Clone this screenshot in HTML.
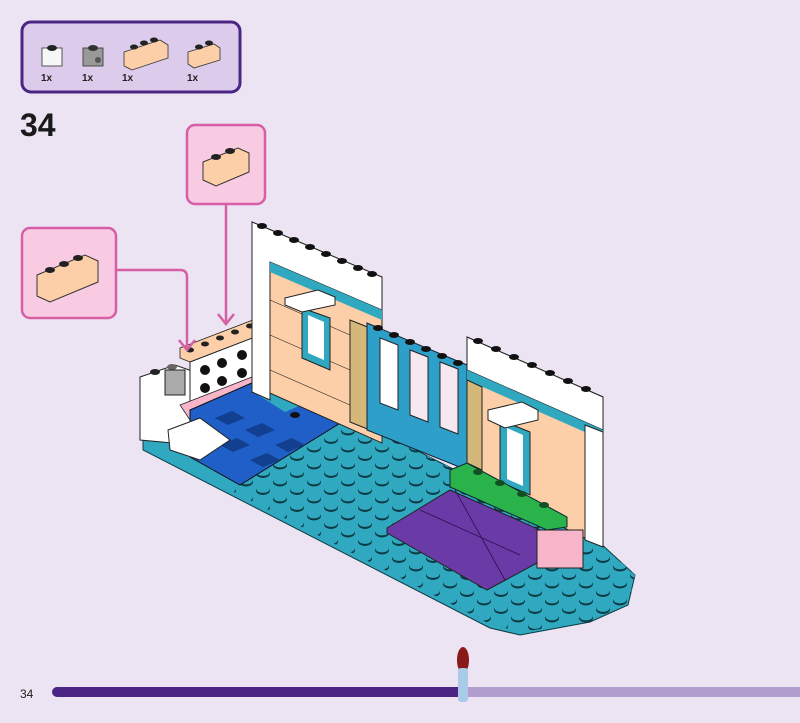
<!DOCTYPE html>
<html><head><meta charset="utf-8"><style>
body{margin:0;background:#ece3f3;width:800px;height:718px;overflow:hidden;font-family:"Liberation Sans",sans-serif}
</style></head><body>
<svg width="800" height="718" viewBox="0 0 800 718" xmlns="http://www.w3.org/2000/svg">
<defs>
<pattern id="st" x="0" y="0" width="34" height="17" patternUnits="userSpaceOnUse">
<ellipse cx="8" cy="6" rx="7" ry="4.5" fill="#0d3b44"/><ellipse cx="8" cy="4.8" rx="6.5" ry="3.6" fill="#2fa8c0"/>
<ellipse cx="25" cy="14.5" rx="7" ry="4.5" fill="#0d3b44"/><ellipse cx="25" cy="13.3" rx="6.5" ry="3.6" fill="#2fa8c0"/>
<ellipse cx="25" cy="-2.5" rx="7" ry="4.5" fill="#0d3b44"/><ellipse cx="25" cy="-3.7" rx="6.5" ry="3.6" fill="#2fa8c0"/>
</pattern>
</defs>
<rect width="800" height="718" fill="#ece3f3"/>
<rect x="22" y="22" width="218" height="70" rx="9" fill="#dccbea" stroke="#4b2584" stroke-width="3"/>
<rect x="42" y="48" width="20" height="18" fill="#f7f7f7" stroke="#333" stroke-width=".8"/><ellipse cx="52" cy="48" rx="5" ry="3" fill="#222"/>
<rect x="83" y="48" width="20" height="18" fill="#999" stroke="#333" stroke-width=".8"/><ellipse cx="93" cy="48" rx="5" ry="3" fill="#333"/><circle cx="98" cy="60" r="3" fill="#555"/>
<polygon points="124,52 160,40 168,45 168,58 132,70 124,66" fill="#fdcfa8" stroke="#333" stroke-width=".8"/>
<ellipse cx="134" cy="47" rx="4" ry="2.5" fill="#222"/><ellipse cx="144" cy="43" rx="4" ry="2.5" fill="#222"/><ellipse cx="154" cy="40" rx="4" ry="2.5" fill="#222"/>
<polygon points="188,52 214,44 220,48 220,60 194,68 188,64" fill="#fdcfa8" stroke="#333" stroke-width=".8"/>
<ellipse cx="199" cy="47" rx="4" ry="2.5" fill="#222"/><ellipse cx="209" cy="43" rx="4" ry="2.5" fill="#222"/>
<g font-size="10" fill="#222" font-weight="bold"><text x="41" y="81">1x</text><text x="82" y="81">1x</text><text x="122" y="81">1x</text><text x="187" y="81">1x</text></g>
<text x="20" y="136" font-size="32" font-weight="bold" fill="#1a1a1a">34</text>
<rect x="187" y="125" width="78" height="79" rx="8" fill="#f8cbe3" stroke="#d65fa6" stroke-width="2.5"/>
<polygon points="203,162 238,148 249,153 249,172 216,186 203,180" fill="#fdcfa8" stroke="#333"/>
<ellipse cx="216" cy="157" rx="5" ry="3" fill="#222"/><ellipse cx="230" cy="151" rx="5" ry="3" fill="#222"/>
<rect x="22" y="228" width="94" height="90" rx="8" fill="#f8cbe3" stroke="#d65fa6" stroke-width="2.5"/>
<polygon points="37,275 85,255 98,261 98,282 50,302 37,296" fill="#fdcfa8" stroke="#333"/>
<ellipse cx="50" cy="270" rx="5" ry="3" fill="#222"/><ellipse cx="64" cy="264" rx="5" ry="3" fill="#222"/><ellipse cx="78" cy="258" rx="5" ry="3" fill="#222"/>
<!-- base -->
<polygon points="143,440 250,400 363,423 455,470 597,540 635,575 628,605 590,622 520,635 490,628 143,450" fill="#2fa8c0" stroke="#0d3b44" stroke-width="1"/>
<polygon points="200,440 363,423 455,470 597,540 635,575 628,605 590,622 520,632 490,624 230,490" fill="url(#st)"/>
<!-- left block -->
<polygon points="140,377 175,365 195,372 195,445 140,440" fill="#fff" stroke="#222"/>
<ellipse cx="155" cy="372" rx="5" ry="3" fill="#222"/><ellipse cx="172" cy="367" rx="5" ry="3" fill="#666"/>
<rect x="165" y="370" width="20" height="25" fill="#aaa" stroke="#222"/>
<polygon points="180,348 258,318 268,322 268,332 190,362 180,358" fill="#fdcfa8" stroke="#222" stroke-width=".8"/>
<g fill="#222"><ellipse cx="190" cy="350" rx="4" ry="2.5"/><ellipse cx="205" cy="344" rx="4" ry="2.5"/><ellipse cx="220" cy="338" rx="4" ry="2.5"/><ellipse cx="235" cy="332" rx="4" ry="2.5"/><ellipse cx="250" cy="326" rx="4" ry="2.5"/></g>
<polygon points="190,362 268,332 268,378 190,408" fill="#fff" stroke="#222"/>
<g fill="#111"><circle cx="205" cy="370" r="5"/><circle cx="222" cy="363" r="5"/><circle cx="242" cy="355" r="5"/><circle cx="258" cy="349" r="5"/><circle cx="205" cy="388" r="5"/><circle cx="222" cy="381" r="5"/><circle cx="242" cy="373" r="5"/><circle cx="258" cy="367" r="5"/></g>
<polygon points="180,405 270,370 360,410 350,420 270,387 190,420" fill="#f7b5c9" stroke="#222" stroke-width=".8"/>
<g stroke="#d65fa6" stroke-width="2.5" fill="none">
<path d="M226 204 V322"/><path d="M218 314 L226 324 L234 314"/>
<path d="M116 270 H180 Q187 270 187 277 V348"/><path d="M179 340 L187 350 L195 340"/>
</g>
<polygon points="190,410 270,375 350,417 240,485 190,457" fill="#1f5fc7" stroke="#111"/>
<g fill="#123f8f"><polygon points="215,418 232,411 245,418 228,425"/><polygon points="245,430 262,423 275,430 258,437"/><polygon points="220,445 237,438 250,445 233,452"/><polygon points="275,445 292,438 305,445 288,452"/><polygon points="250,460 267,453 280,460 263,467"/></g>
<polygon points="250,390 290,375 325,395 285,412" fill="#2fa8c0"/>
<ellipse cx="295" cy="415" rx="5" ry="3" fill="#111"/>
<polygon points="168,430 200,418 230,440 200,460 170,450" fill="#fff" stroke="#222"/>
<polygon points="252,222 382,277 382,443 252,385" fill="#fdcfa8" stroke="#222"/>
<polygon points="252,222 382,277 382,310 270,262 270,400 252,392" fill="#fff" stroke="#222"/>
<polygon points="270,262 382,310 382,320 270,272" fill="#2fa8c0"/>
<g stroke="#222" stroke-width=".6"><line x1="270" y1="300" x2="350" y2="335"/><line x1="270" y1="335" x2="350" y2="370"/><line x1="270" y1="370" x2="350" y2="405"/></g>
<g fill="#111"><ellipse cx="262" cy="226" rx="5" ry="3"/><ellipse cx="278" cy="233" rx="5" ry="3"/><ellipse cx="294" cy="240" rx="5" ry="3"/><ellipse cx="310" cy="247" rx="5" ry="3"/><ellipse cx="326" cy="254" rx="5" ry="3"/><ellipse cx="342" cy="261" rx="5" ry="3"/><ellipse cx="358" cy="268" rx="5" ry="3"/><ellipse cx="372" cy="274" rx="5" ry="3"/></g>
<polygon points="350,320 370,328 370,430 350,422" fill="#d4b87a" stroke="#222"/>
<polygon points="302,308 330,318 330,370 302,358" fill="#2fa8c0" stroke="#222"/>
<polygon points="308,315 324,322 324,360 308,353" fill="#fff"/>
<polygon points="285,298 318,290 335,297 335,305 302,312 285,305" fill="#fff" stroke="#222"/>
<polygon points="367,323 467,365 467,470 367,430" fill="#2e9fc8" stroke="#123"/>
<g fill="#111"><ellipse cx="378" cy="328" rx="5" ry="3"/><ellipse cx="394" cy="335" rx="5" ry="3"/><ellipse cx="410" cy="342" rx="5" ry="3"/><ellipse cx="426" cy="349" rx="5" ry="3"/><ellipse cx="442" cy="356" rx="5" ry="3"/><ellipse cx="458" cy="363" rx="5" ry="3"/></g>
<polygon points="380,338 398,345 398,410 380,403" fill="#fff" stroke="#222"/>
<polygon points="410,350 428,357 428,422 410,415" fill="#f5e8f0" stroke="#222"/>
<polygon points="440,362 458,369 458,434 440,427" fill="#f5e8f0" stroke="#222"/>
<polygon points="467,337 603,397 603,547 467,480" fill="#fdcfa8" stroke="#222"/>
<polygon points="467,337 603,397 603,430 467,370" fill="#fff" stroke="#222"/>
<polygon points="467,370 603,430 603,440 467,380" fill="#2fa8c0"/>
<g fill="#111"><ellipse cx="478" cy="341" rx="5" ry="3"/><ellipse cx="496" cy="349" rx="5" ry="3"/><ellipse cx="514" cy="357" rx="5" ry="3"/><ellipse cx="532" cy="365" rx="5" ry="3"/><ellipse cx="550" cy="373" rx="5" ry="3"/><ellipse cx="568" cy="381" rx="5" ry="3"/><ellipse cx="586" cy="389" rx="5" ry="3"/></g>
<polygon points="585,425 603,432 603,547 585,540" fill="#fff" stroke="#222"/>
<polygon points="467,380 482,387 482,470 467,463" fill="#d4b87a" stroke="#222"/>
<polygon points="500,420 530,432 530,495 500,482" fill="#2fa8c0" stroke="#222"/>
<polygon points="507,428 523,435 523,486 507,479" fill="#fff"/>
<polygon points="488,410 522,402 538,410 538,420 505,428 488,420" fill="#fff" stroke="#222"/>
<polygon points="450,470 467,463 567,517 567,527 547,530 450,487" fill="#29b34a" stroke="#123"/>
<g fill="#124f22"><ellipse cx="478" cy="472" rx="5" ry="3"/><ellipse cx="500" cy="483" rx="5" ry="3"/><ellipse cx="522" cy="494" rx="5" ry="3"/><ellipse cx="544" cy="505" rx="5" ry="3"/></g>
<polygon points="387,528 450,490 547,533 537,563 487,590 387,533" fill="#6a3aa6" stroke="#222"/>
<path d="M420 510 L520 555 M455 490 L505 580" stroke="#2a1050" stroke-width=".8"/>
<rect x="537" y="530" width="46" height="38" fill="#f7b5c9" stroke="#222"/>
<text x="20" y="698" font-size="12" fill="#222">34</text>
<rect x="52" y="687" width="420" height="10" rx="5" fill="#4b2484"/>
<rect x="460" y="687" width="340" height="10" fill="#b19ecf"/>
<ellipse cx="463" cy="660" rx="6" ry="13" fill="#8a1a1a"/>
<rect x="458" y="668" width="10" height="34" rx="3" fill="#a9cbe8"/>
</svg>
</body></html>
